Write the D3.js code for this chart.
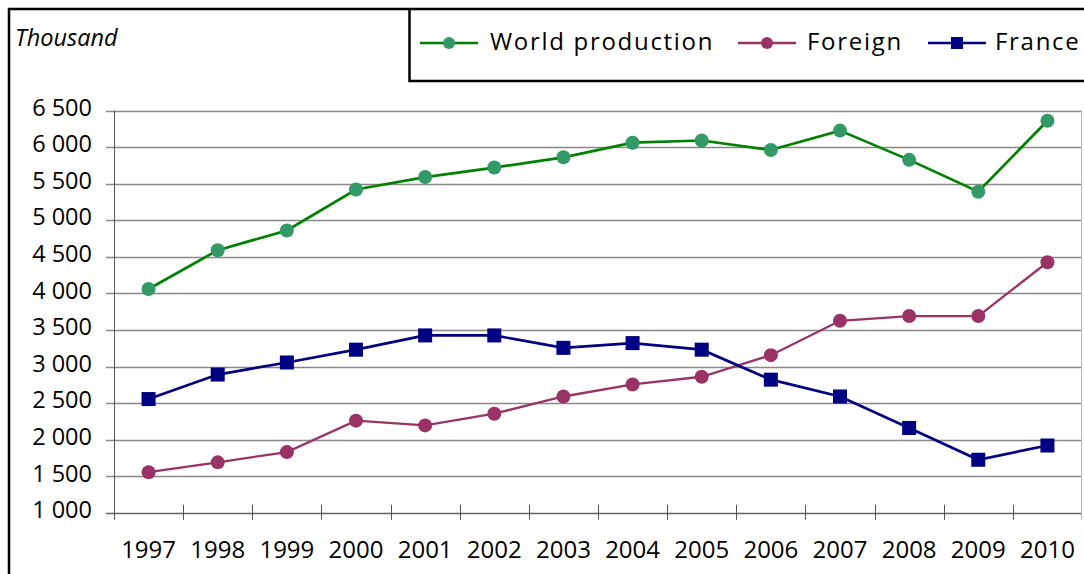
<!DOCTYPE html>
<html>
<head>
<meta charset="utf-8">
<script src="https://cdn.jsdelivr.net/npm/d3@7"></script>
<style>
  body { margin: 0; background: #fff; }
  svg { display: block; font-family: "Open Sans", sans-serif; }
</style>
</head>
<body>
<div id="chart"></div>
<script>
const years = ['1997', '1998', '1999', '2000', '2001', '2002', '2003', '2004', '2005', '2006', '2007', '2008', '2009', '2010'];
const world = [4060, 4590, 4860, 5420, 5590, 5720, 5860, 6060, 6090, 5960, 6225, 5825, 5390, 6360];
const foreign = [1555, 1690, 1830, 2260, 2195, 2355, 2590, 2755, 2860, 3155, 3625, 3690, 3690, 4425];
const france = [2555, 2890, 3055, 3230, 3425, 3425, 3255, 3320, 3230, 2820, 2590, 2160, 1725, 1920];
const yTicks = [1000, 1500, 2000, 2500, 3000, 3500, 4000, 4500, 5000, 5500, 6000, 6500];

const width = 1084;
const height = 574;
const margin = { top: 110.5, right: 2, bottom: 61, left: 114 };

const series = [
    { name: 'World production', values: world, line: '#008000', fill: '#339966', shape: 'circle', lw: 2.7 },
    { name: 'Foreign', values: foreign, line: '#993366', fill: '#993366', shape: 'circle', lw: 2.3 },
    { name: 'France', values: france, line: '#000080', fill: '#000080', shape: 'square', lw: 2.7 }
];

const loc = d3.formatLocale({ decimal: ',', thousands: ' ', grouping: [3], currency: ['', ''] });
const fmt = loc.format(',d');

const svg = d3.select('#chart')
    .append('svg')
    .attr('width', width)
    .attr('height', height)
    .attr('viewBox', [0, 0, width, height]);

const x = d3.scaleBand()
    .domain(years)
    .range([margin.left, width - margin.right])
    .padding(0);

const y = d3.scaleLinear()
    .domain([1000, 6500])
    .range([height - margin.bottom - 0.2, margin.top]);

const plotBottom = y(1000);

// gridlines + y ticks
svg.append('g')
    .selectAll('line')
    .data(yTicks)
    .join('line')
    .attr('x1', margin.left - 8)
    .attr('x2', width - margin.right)
    .attr('y1', d => Math.round(y(d)) + 0.5)
    .attr('y2', d => Math.round(y(d)) + 0.5)
    .attr('stroke', d => d === 1000 ? '#666' : '#888')
    .attr('stroke-width', 1.3);

// y labels
svg.append('g')
    .selectAll('text')
    .data(yTicks)
    .join('text')
    .attr('x', 92)
    .attr('y', d => y(d) - 1)
    .attr('text-anchor', 'end')
    .attr('dominant-baseline', 'middle')
    .style('font-size', '23.5px')
    .attr('fill', '#000')
    .text(d => fmt(d));

// y axis line
svg.append('line')
    .attr('x1', margin.left + 0.5)
    .attr('x2', margin.left + 0.5)
    .attr('y1', y(6500))
    .attr('y2', plotBottom + 7)
    .attr('stroke', '#555')
    .attr('stroke-width', 1);

// right border of plot
svg.append('line')
    .attr('x1', width - margin.right - 0.5)
    .attr('x2', width - margin.right - 0.5)
    .attr('y1', y(6500))
    .attr('y2', plotBottom + 7)
    .attr('stroke', '#bbb')
    .attr('stroke-width', 1);

// x ticks at band edges
svg.append('g')
    .selectAll('line')
    .data(years.slice(1))
    .join('line')
    .attr('x1', d => Math.round(x(d)) + 0.5)
    .attr('x2', d => Math.round(x(d)) + 0.5)
    .attr('y1', plotBottom - 8)
    .attr('y2', plotBottom + 7)
    .attr('stroke', '#555')
    .attr('stroke-width', 1);

// x labels
svg.append('g')
    .attr('transform', `translate(0,${plotBottom})`)
    .call(d3.axisBottom(x).tickSize(0).tickPadding(0))
    .call(g => g.select('.domain').remove())
    .selectAll('text')
    .attr('y', 39)
    .attr('dy', null)
    .attr('dominant-baseline', 'middle')
    .style('font-family', '"Open Sans", sans-serif')
    .style('font-size', '24px')
    .attr('fill', '#000');

const cx = d => x(d) + x.bandwidth() / 2;

const drawSeries = (s) => {
    const pts = years.map((yr, i) => ({ yr, v: s.values[i] }));
    svg.append('path')
        .datum(pts)
        .attr('fill', 'none')
        .attr('stroke', s.line)
        .attr('stroke-width', s.lw)
        .attr('d', d3.line()
            .x(d => cx(d.yr))
            .y(d => y(d.v)));

    if (s.shape === 'circle') {
        svg.append('g')
            .selectAll('circle')
            .data(pts)
            .join('circle')
            .attr('cx', d => cx(d.yr))
            .attr('cy', d => y(d.v))
            .attr('r', 7)
            .attr('fill', s.fill);
    } else {
        svg.append('g')
            .selectAll('rect')
            .data(pts)
            .join('rect')
            .attr('x', d => cx(d.yr) - 7)
            .attr('y', d => y(d.v) - 7)
            .attr('width', 14)
            .attr('height', 14)
            .attr('fill', s.fill);
    }
};

series.forEach(drawSeries);

// outer frame (left + top)
svg.append('path')
    .attr('d', `M9,${height} V9 H${width}`)
    .attr('fill', 'none')
    .attr('stroke', '#000')
    .attr('stroke-width', 2.5);

// legend box
svg.append('path')
    .attr('d', `M${width},81 H409.5 V9`)
    .attr('fill', 'none')
    .attr('stroke', '#000')
    .attr('stroke-width', 2.5);

svg.append('text')
    .attr('x', 15)
    .attr('y', 46)
    .style('font-size', '23.5px')
    .style('font-style', 'italic')
    .attr('fill', '#000')
    .text('Thousand');

const legendPos = [
    { lx: 420, tx: 490 },
    { lx: 738, tx: 807 },
    { lx: 928, tx: 995 }
];

const leg = svg.append('g');
series.forEach((s, i) => {
    const p = legendPos[i];
    const ly = 43;
    leg.append('line')
        .attr('x1', p.lx).attr('x2', p.lx + 58)
        .attr('y1', ly).attr('y2', ly)
        .attr('stroke', s.line)
        .attr('stroke-width', s.lw);
    if (s.shape === 'circle') {
        leg.append('circle')
            .attr('cx', p.lx + 29).attr('cy', ly).attr('r', 6)
            .attr('fill', s.fill);
    } else {
        leg.append('rect')
            .attr('x', p.lx + 23).attr('y', ly - 6)
            .attr('width', 12).attr('height', 12)
            .attr('fill', s.fill);
    }
    leg.append('text')
        .attr('x', p.tx)
        .attr('y', ly + 1)
        .attr('dominant-baseline', 'middle')
        .style('font-size', '24px')
        .style('letter-spacing', '1.7px')
        .attr('fill', '#000')
        .text(s.name);
});
</script>
</body>
</html>
